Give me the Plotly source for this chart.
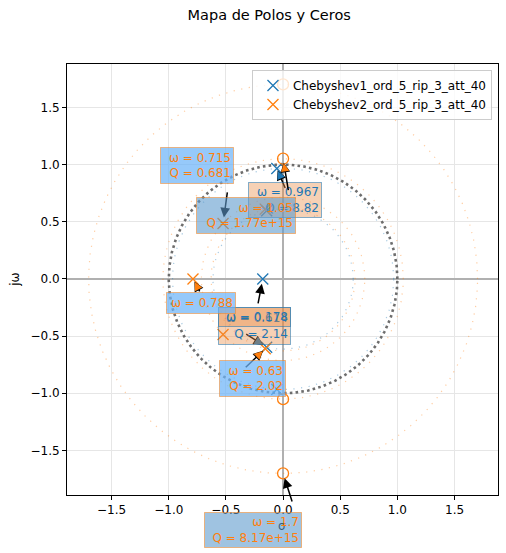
import numpy as np
import plotly.graph_objects as go

BLUE = "#1f77b4"
ORANGE = "#ff7f0e"

# ---------------- data ----------------
series_names = ["Chebyshev1_ord_5_rip_3_att_40", "Chebyshev2_ord_5_rip_3_att_40"]

cheb1_pole_re = [-0.0548, -0.0548, -0.1435, -0.1435, -0.1774]
cheb1_pole_im = [0.9659, -0.9659, 0.5970, -0.5970, 0.0]

cheb2_pole_re = [-0.156, -0.156, -0.525, -0.525, -0.788]
cheb2_pole_im = [0.6104, -0.6104, 0.4854, -0.4854, 0.0]
cheb2_zero_re = [0.0, 0.0, 0.0, 0.0]
cheb2_zero_im = [1.0515, -1.0515, 1.7013, -1.7013]

unit_circle_radius = 1.0

# annotated singularities
cheb1_ann_re = [-0.0548, -0.1435, -0.1774]
cheb1_ann_im = [0.9659, -0.5970, 0.0]
cheb1_ann_txt = ["ω = 0.967<br>Q = 8.82", "ω = 0.614<br>Q = 2.14", "ω = 0.178"]
cheb1_ann_kind = ["pole", "pole", "pole"]

cheb2_ann_re = [0.0, -0.525, -0.156, -0.788, 0.0]
cheb2_ann_im = [1.0515, 0.4854, -0.6104, 0.0, -1.7013]
cheb2_ann_txt = ["ω = 1.05<br>Q = 1.77e+15", "ω = 0.715<br>Q = 0.681",
                 "ω = 0.63<br>Q = 2.02", "ω = 0.788", "ω = 1.7<br>Q = 8.17e+15"]
cheb2_ann_kind = ["zero", "pole", "pole", "pole", "zero"]

x_range = [-1.89, 1.88]
y_range = [-1.89, 1.88]
tick_vals = [-1.5, -1.0, -0.5, 0.0, 0.5, 1.0, 1.5]

# ---------------- layout helpers (pixel offsets) ----------------
cheb1_style = [
    dict(box=(8, 31), size=(76, 36), tail=(9, 21), so=2),
    dict(box=(-12, -21), size=(75, 38), tail=(-22, -14), so=4),
    dict(box=(-8, 38), size=(75, 20), tail=(-5, 26), so=5),
]
cheb2_style = [
    dict(box=(-37, 57), size=(102, 37), tail=(5.5, 33), so=4),
    dict(box=(-26, -58), size=(76, 37), tail=(4.5, -32.5), so=6),
    dict(box=(-13, 30), size=(69, 37), tail=(-21, 20), so=3),
    dict(box=(8, 24), size=(72, 22), tail=(7.5, 14), so=3),
    dict(box=(-30, 57), size=(100, 36), tail=(9.5, 29.5), so=5),
]

fig = go.Figure()
theta = np.linspace(0, 2 * np.pi, 500)


def add_circle(r, color, width, dash, opacity):
    fig.add_trace(go.Scatter(x=r * np.cos(theta), y=r * np.sin(theta), mode="lines",
                             line=dict(color=color, width=width, dash=dash),
                             opacity=opacity, showlegend=False, hoverinfo="skip"))


def complex_radii(re, im):
    z = np.array(re) + 1j * np.array(im)
    z = z[np.abs(np.imag(z)) > 1e-9]  # only complex singularities get a circle
    return sorted(set(np.round(np.abs(z), 4)))


r1 = complex_radii(cheb1_pole_re, cheb1_pole_im)
r2 = complex_radii(cheb2_pole_re + cheb2_zero_re, cheb2_pole_im + cheb2_zero_im)
for r in r1:
    add_circle(r, BLUE, 1.2, "1.2px,6.5px", 0.38)
for r in r2:
    add_circle(r, ORANGE, 1.2, "1.2px,6.5px", 0.38)
add_circle(unit_circle_radius, "#555555", 2.6, "2.6px,3.2px", 0.85)

fig.add_trace(go.Scatter(x=cheb1_pole_re, y=cheb1_pole_im, mode="markers", name=series_names[0],
                         marker=dict(symbol="x-thin", size=11, line=dict(color=BLUE, width=1.3))))
fig.add_trace(go.Scatter(x=cheb2_pole_re, y=cheb2_pole_im, mode="markers", name=series_names[1],
                         marker=dict(symbol="x-thin", size=11, line=dict(color=ORANGE, width=1.3))))
fig.add_trace(go.Scatter(x=cheb2_zero_re, y=cheb2_zero_im, mode="markers", showlegend=False,
                         marker=dict(symbol="circle-open", size=11, color=ORANGE,
                                     line=dict(color=ORANGE, width=1.3))))

ann = []
ann.append(dict(text="σ", xref="paper", yref="paper", x=0.4988, y=-0.072, showarrow=False,
                font=dict(size=12, color="black"), xanchor="center", yanchor="middle"))
ann.append(dict(text="jω", xref="paper", yref="paper", x=-0.121, y=0.4988, showarrow=False,
                textangle=-90, font=dict(size=12, color="black"), xanchor="center", yanchor="middle"))


def add_group(res, ims, txts, kinds, styles, tcolor, hcolor, fills, edge):
    for re_, im_, st in zip(res, ims, styles):
        tx, ty = st["tail"]
        ann.append(dict(x=re_, y=im_, xref="x", yref="y", ax=tx, ay=ty, axref="pixel", ayref="pixel",
                        text="", showarrow=True, arrowhead=2, arrowsize=1.3, arrowwidth=1.5,
                        arrowcolor="black", standoff=st["so"]))
        L = np.hypot(tx, ty)
        ann.append(dict(x=re_, y=im_, xref="x", yref="y", ax=tx * 9 / L, ay=ty * 9 / L,
                        axref="pixel", ayref="pixel", text="", showarrow=True, arrowhead=2,
                        arrowsize=1.65, arrowwidth=1.0, arrowcolor=hcolor, standoff=st["so"] + 0.6))
    for re_, im_, txt, kind, st in zip(res, ims, txts, kinds, styles):
        dx, dy = st["box"]
        w, h = st["size"]
        ann.append(dict(x=re_, y=im_, xref="x", yref="y", text=txt, showarrow=False,
                        xanchor="center", yanchor="middle", xshift=dx, yshift=-dy,
                        align="right", font=dict(size=12, color=tcolor),
                        bgcolor=fills[kind], bordercolor=edge, borderwidth=1, borderpad=2,
                        width=w - 8, height=h - 6))


add_group(cheb1_ann_re, cheb1_ann_im, cheb1_ann_txt, cheb1_ann_kind, cheb1_style, BLUE, BLUE,
          {"pole": "rgba(232,140,70,0.40)", "zero": "rgba(232,140,70,0.40)"},
          "rgba(31,119,180,0.55)")
add_group(cheb2_ann_re, cheb2_ann_im, cheb2_ann_txt, cheb2_ann_kind, cheb2_style, ORANGE, ORANGE,
          {"pole": "rgba(110,180,248,0.72)", "zero": "rgba(95,155,205,0.6)"},
          "rgba(255,127,14,0.5)")

axis_common = dict(tickvals=tick_vals, tickformat=".1f", ticks="outside", ticklen=4,
                   tickcolor="black", tickwidth=1, showline=True, mirror=True, linecolor="black",
                   linewidth=1, showgrid=True, gridcolor="#e6e6e6", gridwidth=1,
                   zeroline=True, zerolinecolor="#b0b0b0", zerolinewidth=2,
                   tickfont=dict(size=12, color="black"))

fig.update_layout(
    width=506, height=553,
    margin=dict(l=67, r=8, t=64, b=58),
    paper_bgcolor="white", plot_bgcolor="white",
    font=dict(family="DejaVu Sans", size=12, color="black"),
    title=dict(text="Mapa de Polos y Ceros", x=0.532, xref="container", xanchor="center",
               y=1 - 15 / 553, yref="container", yanchor="middle",
               font=dict(size=14.5, color="black")),
    xaxis={**axis_common, "range": x_range},
    yaxis={**axis_common, "range": y_range},
    legend=dict(x=0.986, y=0.986, xanchor="right", yanchor="top", bgcolor="rgba(255,255,255,0.8)",
                bordercolor="#cccccc", borderwidth=1, font=dict(size=12, color="black")),
    annotations=ann,
    showlegend=True,
)

fig.write_html("out.html")
